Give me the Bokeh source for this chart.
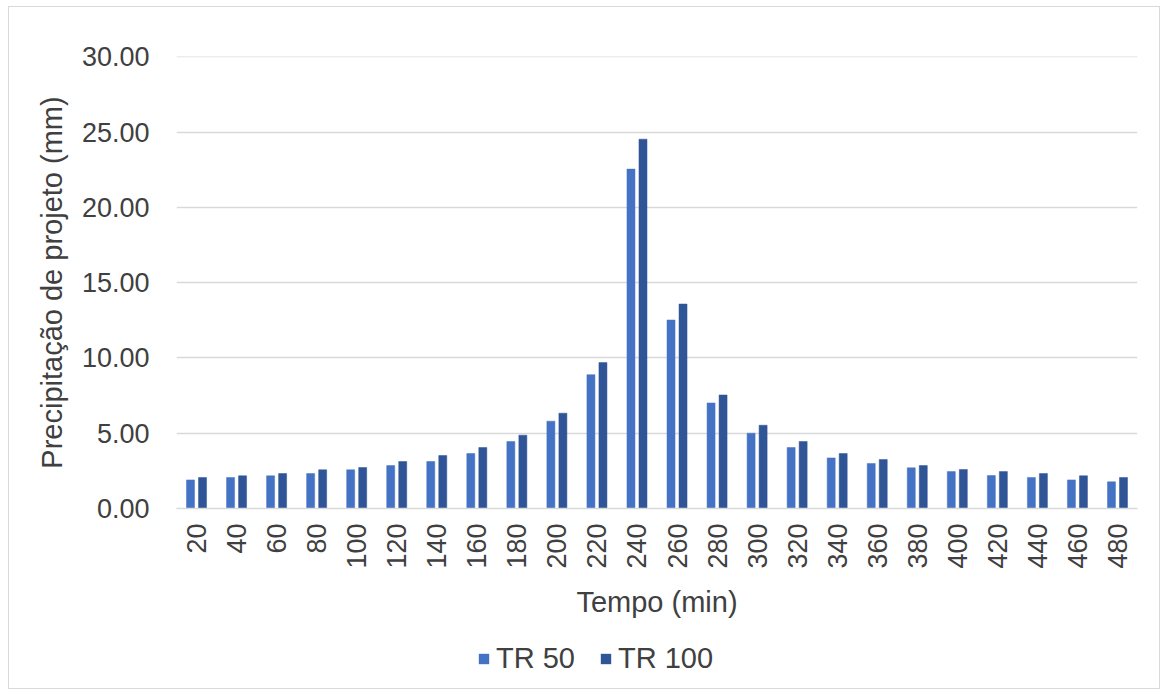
from bokeh.plotting import figure
from bokeh.layouts import column
from bokeh.models import (ColumnDataSource, FactorRange, Legend, LegendItem,
                          SingleIntervalTicker, NumeralTickFormatter, Range1d)
from bokeh.transform import dodge
from bokeh.embed import file_html
from bokeh.resources import INLINE
from math import pi

tempo = [str(t) for t in [20, 40, 60, 80, 100, 120, 140, 160, 180, 200, 220, 240,
                          260, 280, 300, 320, 340, 360, 380, 400, 420, 440, 460, 480]]
tr50 = [1.90, 2.06, 2.17, 2.32, 2.57, 2.85, 3.12, 3.65, 4.45, 5.80, 8.89, 22.54,
        12.52, 7.01, 5.00, 4.05, 3.36, 2.99, 2.70, 2.45, 2.19, 2.06, 1.90, 1.77]
tr100 = [2.06, 2.17, 2.32, 2.57, 2.72, 3.12, 3.52, 4.05, 4.87, 6.33, 9.69, 24.53,
         13.58, 7.54, 5.53, 4.45, 3.65, 3.25, 2.85, 2.59, 2.45, 2.32, 2.17, 2.06]
series_names = ["TR 50", "TR 100"]
colors = ["#4472C4", "#2F5597"]

src = ColumnDataSource(dict(t=tempo, a=tr50, b=tr100))

FONT = "Liberation Sans"
FS_TICK = "27px"
FS_TITLE = "29px"
TXT = "#404040"

xr = FactorRange(*tempo, range_padding=0)
p = figure(x_range=xr, y_range=Range1d(0, 30.02),
           width=1150, height=621, output_backend="svg", toolbar_location=None,
           min_border_left=167, min_border_right=22, min_border_top=49, min_border_bottom=120)

r1 = p.vbar(x=dodge("t", -0.15, range=xr), top="a", width=0.2, source=src,
            fill_color=colors[0], line_color=colors[0], line_width=0.5)
r2 = p.vbar(x=dodge("t", 0.15, range=xr), top="b", width=0.2, source=src,
            fill_color=colors[1], line_color=colors[1], line_width=0.5)

p.outline_line_color = None
p.xgrid.grid_line_color = None
p.ygrid.grid_line_color = "#d9d9d9"
p.ygrid.grid_line_width = 1.3

p.yaxis.ticker = SingleIntervalTicker(interval=5)
p.yaxis.formatter = NumeralTickFormatter(format="0.00")
p.yaxis.axis_line_color = None
p.yaxis.major_tick_line_color = None
p.yaxis.minor_tick_line_color = None
p.yaxis.major_label_standoff = 21
p.yaxis.axis_label = "Precipitação de projeto (mm)"
p.yaxis.axis_label_standoff = 11

p.xaxis.axis_line_color = "#d9d9d9"
p.xaxis.axis_line_width = 1.3
p.xaxis.major_tick_line_color = None
p.xaxis.major_label_orientation = pi / 2
p.xaxis.major_label_standoff = 9
p.xaxis.axis_label = "Tempo (min)"
p.xaxis.axis_label_standoff = 14

for ax in (p.xaxis[0], p.yaxis[0]):
    ax.major_label_text_font = FONT
    ax.major_label_text_font_size = FS_TICK
    ax.major_label_text_color = TXT
    ax.axis_label_text_font = FONT
    ax.axis_label_text_font_size = FS_TITLE
    ax.axis_label_text_font_style = "normal"
    ax.axis_label_text_color = TXT

# legend strip below the chart: swatch renderers use the series' source but have
# zero width and zero height and no outline, so only the legend swatches show
lp = figure(width=1150, height=60, x_range=xr, y_range=Range1d(-20, -10),
            x_axis_type=None, y_axis_type=None, output_backend="svg",
            toolbar_location=None, min_border=0)
lp.outline_line_color = None
lp.xgrid.visible = False
lp.ygrid.visible = False
l1 = lp.vbar(x="t", top="a", bottom="a", width=0, source=src,
             fill_color=colors[0], line_color=None)
l2 = lp.vbar(x="t", top="b", bottom="b", width=0, source=src,
             fill_color=colors[1], line_color=None)
legend = Legend(items=[LegendItem(label=series_names[0], renderers=[l1]),
                       LegendItem(label=series_names[1], renderers=[l2])],
                orientation="horizontal", location=(301, 13),
                label_text_font=FONT, label_text_font_size=FS_TITLE, label_text_color=TXT,
                glyph_width=13, glyph_height=13, label_standoff=6, spacing=24,
                border_line_color=None, background_fill_alpha=0, padding=0, margin=0)
lp.add_layout(legend)

layout = column(p, lp, spacing=0)
layout.styles = {"margin-left": "9px", "margin-top": "7px",
                 "outline": "1px solid #d9d9d9"}

open("out.html", "w").write(file_html(layout, INLINE))
